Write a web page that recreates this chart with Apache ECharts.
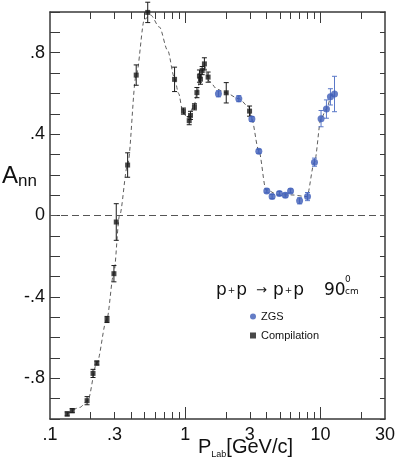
<!DOCTYPE html>
<html>
<head>
<meta charset="utf-8">
<script src="https://cdn.jsdelivr.net/npm/echarts@6/dist/echarts.min.js"></script>
<style>
  html, body { margin: 0; padding: 0; background: #fff; }
  #chart { width: 398px; height: 468px; }
</style>
</head>
<body>
<div id="chart"></div>
<script>
// compilation data (black squares)
var compP = [0.134, 0.146, 0.188, 0.208, 0.222, 0.264, 0.297, 0.309, 0.375, 0.434, 0.528, 0.834,
             0.97, 1.07, 1.094, 1.17, 1.22, 1.274, 1.296, 1.334, 1.386, 1.476, 2.01, 2.99];
var compA = [-0.975, -0.959, -0.91, -0.776, -0.725, -0.511, -0.286, -0.032, 0.248, 0.69, 0.998, 0.669,
             0.513, 0.466, 0.492, 0.534, 0.604, 0.685, 0.670, 0.712, 0.745, 0.68, 0.603, 0.513];
var compErr = [0.01, 0.01, 0.02, 0.02, 0.01, 0.015, 0.04, 0.09, 0.06, 0.05, 0.05, 0.06,
               0.015, 0.02, 0.02, 0.015, 0.025, 0.03, 0.025, 0.02, 0.03, 0.025, 0.05, 0.025];

// ZGS data (blue circles)
var zgsP = [1.76, 2.49, 3.11, 3.5, 4.01, 4.39, 4.97, 5.5, 6.01, 7.01, 8.02, 9.03, 10.1, 11.07, 11.85, 12.7];
var zgsA = [0.598, 0.574, 0.474, 0.316, 0.121, 0.093, 0.108, 0.10, 0.121, 0.072, 0.093, 0.262,
            0.476, 0.523, 0.583, 0.597];
var zgsErr = [0.015, 0.015, 0.012, 0.01, 0.01, 0.01, 0.01, 0.01, 0.01, 0.015, 0.02, 0.02,
              0.04, 0.045, 0.04, 0.087];

// dashed guide curve
var curveP = [0.134, 0.166, 0.19, 0.222, 0.263, 0.296, 0.327, 0.375, 0.434, 0.50, 0.555,
              0.644, 0.741, 0.83, 0.893, 0.955, 1.03, 1.16, 1.22, 1.31, 1.39, 1.50, 1.73, 1.99,
              2.49, 2.95, 3.09, 3.5, 3.96, 4.92, 6.15, 7.93, 9.03, 10.1, 11.07, 12.1, 12.8];
var curveA = [-0.975, -0.943, -0.91, -0.725, -0.51, -0.286, 0, 0.248, 0.69, 0.965, 0.985,
              0.926, 0.812, 0.68, 0.6, 0.518, 0.48, 0.535, 0.6, 0.70, 0.735, 0.66, 0.62, 0.603,
              0.574, 0.534, 0.477, 0.319, 0.126, 0.101, 0.101, 0.093, 0.262, 0.476, 0.523, 0.592, 0.6];

// axis ticks / labels
var xLabels = [0.1, 0.3, 1, 3, 10, 30];
var xMinorTicks = [0.2, 0.3, 0.4, 0.5, 0.6, 0.7, 0.8, 0.9, 2, 3, 4, 5, 6, 7, 8, 9, 20];
var xMajorTicks = [1, 10];

var blue = '#3d5cb8';
var ink = '#1a1a1a';
var axisCol = '#3a3a3a';
var font = 'Liberation Sans';
var gfont = 'DejaVu Sans';

function pairs(xs, ys) {
    var out = [];
    for (var i = 0; i < xs.length; i++) out.push([xs[i], ys[i]]);
    return out;
}
function errRows(xs, ys, es) {
    var out = [];
    for (var i = 0; i < xs.length; i++) out.push([xs[i], ys[i] - es[i], ys[i] + es[i]]);
    return out;
}
function fmtNum(v) {
    return String(v).replace(/^(-?)0\./, '$1.');
}

function renderErr(params, api) {
    var lo = api.coord([api.value(0), api.value(1)]);
    var hi = api.coord([api.value(0), api.value(2)]);
    var w = 2.5;
    var st = { stroke: api.visual('color'), lineWidth: 1 };
    return {
        type: 'group',
        children: [
            { type: 'line', shape: { x1: lo[0], y1: lo[1], x2: hi[0], y2: hi[1] }, style: st },
            { type: 'line', shape: { x1: lo[0] - w, y1: lo[1], x2: lo[0] + w, y2: lo[1] }, style: st },
            { type: 'line', shape: { x1: hi[0] - w, y1: hi[1], x2: hi[0] + w, y2: hi[1] }, style: st }
        ]
    };
}

function logAxis(pos, ticks, len, withLabels, withLine) {
    return {
        type: 'log', logBase: 10, min: 0.1, max: 30, position: pos,
        axisLine: { show: withLine, onZero: false, lineStyle: { color: axisCol, width: 1.5 } },
        axisTick: { show: true, inside: true, length: len, customValues: ticks,
                    lineStyle: { color: axisCol, width: 1 } },
        axisLabel: withLabels ? {
            show: true, customValues: xLabels, margin: 7,
            color: '#111', fontSize: 18, fontFamily: font,
            formatter: function (v) { return fmtNum(v); }
        } : { show: false },
        splitLine: { show: false },
        minorTick: { show: false }
    };
}

function valAxis(pos, len, withLabels) {
    return {
        type: 'value', min: -1, max: 1, interval: 0.1, position: pos,
        axisLine: { show: true, onZero: false, lineStyle: { color: axisCol, width: 1.5 } },
        axisTick: { show: true, inside: true, length: len, lineStyle: { color: axisCol, width: 1 } },
        axisLabel: withLabels ? {
            show: true, margin: 5, color: '#111', fontSize: 18, fontFamily: font,
            formatter: function (v) {
                var k = Math.round(v * 10);
                if (k % 4 !== 0 || Math.abs(k) >= 10) return '';
                return fmtNum(k / 10);
            }
        } : { show: false },
        splitLine: { show: false }
    };
}

function label(left, top, text, size) {
    return { type: 'text', left: left, top: top,
             style: { text: text, fontSize: size, fontFamily: gfont, fill: '#111' } };
}
function ppText(left, top) {
    return { type: 'text', left: left, top: top,
             style: { text: '{a|p}{s|+}{a|p}', rich: {
                 a: { fontSize: 17, fontFamily: gfont, fill: '#111' },
                 s: { fontSize: 9, fontFamily: gfont, fill: '#111', padding: [0, 1, 0, 1] } } } };
}

var chart = echarts.init(document.getElementById('chart'), null, { renderer: 'canvas' });

chart.setOption({
    backgroundColor: '#fff',
    animation: false,
    grid: { left: 50, right: 11, top: 12, bottom: 49 },
    xAxis: [
        logAxis('bottom', xMinorTicks, 7, true, true),
        logAxis('bottom', xMajorTicks, 12, false, false),
        logAxis('top', xMinorTicks, 7, false, true),
        logAxis('top', xMajorTicks, 11, false, false)
    ],
    yAxis: [
        valAxis('left', 10, true),
        valAxis('right', 5, false)
    ],
    legend: {
        orient: 'vertical', left: 245, top: 306, itemWidth: 6, itemHeight: 6, itemGap: 8,
        textStyle: { fontSize: 11, color: '#111', fontFamily: font },
        data: [{ name: 'ZGS', icon: 'circle' }, { name: 'Compilation', icon: 'rect' }]
    },
    graphic: [
        { type: 'text', left: 2, top: 164,
          style: { text: '{a|A}{b|nn}', rich: {
              a: { fontSize: 24, fontFamily: font, fill: '#111' },
              b: { fontSize: 17, fontFamily: font, fill: '#111', padding: [10, 0, 0, 0] } } } },
        { type: 'text', left: 198, top: 437,
          style: { text: '{a|P}{b|Lab}{a|[GeV/c]}', rich: {
              a: { fontSize: 20, fontFamily: font, fill: '#111' },
              b: { fontSize: 9, fontFamily: font, fill: '#111', padding: [15, 0, 0, 0] } } } },
        ppText(216, 282),
        label(256, 284, '→', 13),
        ppText(273, 282),
        label(324, 282, '90', 17),
        label(345, 275, '0', 9),
        label(345, 287, 'cm', 9)
    ],
    series: [
        {
            name: 'curve', type: 'line', xAxisIndex: 0, yAxisIndex: 0,
            data: pairs(curveP, curveA), smooth: 0.3, smoothMonotone: 'x',
            showSymbol: false, symbol: 'none', silent: true, z: 1,
            lineStyle: { color: '#333', width: 0.8, type: [4, 3] },
            markLine: {
                silent: true, symbol: ['none', 'none'], label: { show: false },
                lineStyle: { color: '#555', width: 1, type: [7, 4] },
                data: [{ yAxis: 0 }]
            }
        },
        {
            name: 'compErr', type: 'custom', xAxisIndex: 0, yAxisIndex: 0,
            renderItem: renderErr, data: errRows(compP, compA, compErr),
            encode: { x: 0, y: [1, 2] }, itemStyle: { color: ink }, z: 2, silent: true
        },
        {
            name: 'zgsErr', type: 'custom', xAxisIndex: 0, yAxisIndex: 0,
            renderItem: renderErr, data: errRows(zgsP, zgsA, zgsErr),
            encode: { x: 0, y: [1, 2] }, itemStyle: { color: '#5a78c8' }, z: 2, silent: true
        },
        {
            name: 'ZGS', type: 'scatter', xAxisIndex: 0, yAxisIndex: 0,
            data: pairs(zgsP, zgsA), symbol: 'circle', symbolSize: 7,
            itemStyle: { color: blue }, z: 3
        },
        {
            name: 'Compilation', type: 'scatter', xAxisIndex: 0, yAxisIndex: 0,
            data: pairs(compP, compA), symbol: 'rect', symbolSize: 5,
            itemStyle: { color: ink }, z: 3
        }
    ]
});
</script>
</body>
</html>
